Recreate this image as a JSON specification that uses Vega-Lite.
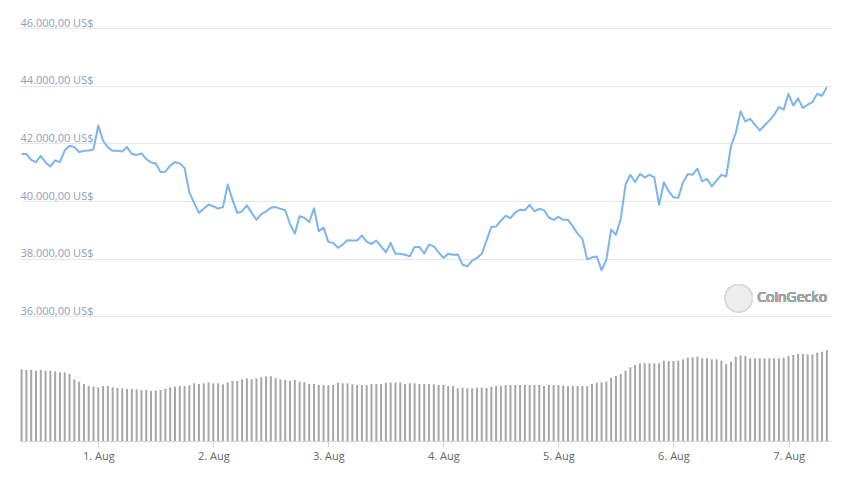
{
  "$schema": "https://vega.github.io/schema/vega-lite/v6.json",
  "width": 811,
  "height": 413,
  "autosize": {"type": "none"},
  "padding": {"left": 20, "top": 28, "right": 24, "bottom": 45},
  "background": "#ffffff",
  "config": {"view": {"stroke": null}, "font": "Open Sans"},
  "data": {"values": [
    {"t":"2021-07-31T08:00:00Z","price":41630,"volume":26.88},
    {"t":"2021-07-31T09:00:00Z","price":41630,"volume":26.63},
    {"t":"2021-07-31T10:00:00Z","price":41430,"volume":26.63},
    {"t":"2021-07-31T11:00:00Z","price":41350,"volume":26.38},
    {"t":"2021-07-31T12:00:00Z","price":41570,"volume":26.63},
    {"t":"2021-07-31T13:00:00Z","price":41340,"volume":26.38},
    {"t":"2021-07-31T14:00:00Z","price":41200,"volume":26.38},
    {"t":"2021-07-31T15:00:00Z","price":41410,"volume":26.13},
    {"t":"2021-07-31T16:00:00Z","price":41350,"volume":25.75},
    {"t":"2021-07-31T17:00:00Z","price":41760,"volume":25.75},
    {"t":"2021-07-31T18:00:00Z","price":41920,"volume":25.13},
    {"t":"2021-07-31T19:00:00Z","price":41870,"volume":23.13},
    {"t":"2021-07-31T20:00:00Z","price":41700,"volume":22.25},
    {"t":"2021-07-31T21:00:00Z","price":41740,"volume":21.38},
    {"t":"2021-07-31T22:00:00Z","price":41750,"volume":20.63},
    {"t":"2021-07-31T23:00:00Z","price":41790,"volume":20.38},
    {"t":"2021-08-01T00:00:00Z","price":42620,"volume":20.13},
    {"t":"2021-08-01T01:00:00Z","price":42090,"volume":20.63},
    {"t":"2021-08-01T02:00:00Z","price":41860,"volume":20.63},
    {"t":"2021-08-01T03:00:00Z","price":41740,"volume":20.13},
    {"t":"2021-08-01T04:00:00Z","price":41740,"volume":19.88},
    {"t":"2021-08-01T05:00:00Z","price":41720,"volume":19.75},
    {"t":"2021-08-01T06:00:00Z","price":41870,"volume":19.5},
    {"t":"2021-08-01T07:00:00Z","price":41630,"volume":19.5},
    {"t":"2021-08-01T08:00:00Z","price":41600,"volume":19.38},
    {"t":"2021-08-01T09:00:00Z","price":41650,"volume":19.13},
    {"t":"2021-08-01T10:00:00Z","price":41460,"volume":19.13},
    {"t":"2021-08-01T11:00:00Z","price":41340,"volume":18.75},
    {"t":"2021-08-01T12:00:00Z","price":41300,"volume":18.88},
    {"t":"2021-08-01T13:00:00Z","price":41010,"volume":19.13},
    {"t":"2021-08-01T14:00:00Z","price":41020,"volume":19.63},
    {"t":"2021-08-01T15:00:00Z","price":41230,"volume":20.13},
    {"t":"2021-08-01T16:00:00Z","price":41350,"volume":20.38},
    {"t":"2021-08-01T17:00:00Z","price":41300,"volume":20.63},
    {"t":"2021-08-01T18:00:00Z","price":41150,"volume":20.63},
    {"t":"2021-08-01T19:00:00Z","price":40300,"volume":20.88},
    {"t":"2021-08-01T20:00:00Z","price":39930,"volume":21.63},
    {"t":"2021-08-01T21:00:00Z","price":39590,"volume":21.38},
    {"t":"2021-08-01T22:00:00Z","price":39730,"volume":21.63},
    {"t":"2021-08-01T23:00:00Z","price":39880,"volume":22.0},
    {"t":"2021-08-02T00:00:00Z","price":39820,"volume":21.63},
    {"t":"2021-08-02T01:00:00Z","price":39740,"volume":21.63},
    {"t":"2021-08-02T02:00:00Z","price":39790,"volume":21.25},
    {"t":"2021-08-02T03:00:00Z","price":40570,"volume":22.0},
    {"t":"2021-08-02T04:00:00Z","price":40050,"volume":22.5},
    {"t":"2021-08-02T05:00:00Z","price":39590,"volume":22.5},
    {"t":"2021-08-02T06:00:00Z","price":39640,"volume":23.13},
    {"t":"2021-08-02T07:00:00Z","price":39850,"volume":23.5},
    {"t":"2021-08-02T08:00:00Z","price":39590,"volume":23.13},
    {"t":"2021-08-02T09:00:00Z","price":39350,"volume":23.5},
    {"t":"2021-08-02T10:00:00Z","price":39550,"volume":23.88},
    {"t":"2021-08-02T11:00:00Z","price":39640,"volume":24.25},
    {"t":"2021-08-02T12:00:00Z","price":39770,"volume":24.25},
    {"t":"2021-08-02T13:00:00Z","price":39790,"volume":23.5},
    {"t":"2021-08-02T14:00:00Z","price":39730,"volume":23.13},
    {"t":"2021-08-02T15:00:00Z","price":39680,"volume":22.88},
    {"t":"2021-08-02T16:00:00Z","price":39210,"volume":22.63},
    {"t":"2021-08-02T17:00:00Z","price":38870,"volume":22.88},
    {"t":"2021-08-02T18:00:00Z","price":39470,"volume":22.25},
    {"t":"2021-08-02T19:00:00Z","price":39420,"volume":22.0},
    {"t":"2021-08-02T20:00:00Z","price":39270,"volume":21.38},
    {"t":"2021-08-02T21:00:00Z","price":39750,"volume":21.38},
    {"t":"2021-08-02T22:00:00Z","price":38950,"volume":21.0},
    {"t":"2021-08-02T23:00:00Z","price":39080,"volume":21.0},
    {"t":"2021-08-03T00:00:00Z","price":38580,"volume":21.0},
    {"t":"2021-08-03T01:00:00Z","price":38550,"volume":21.0},
    {"t":"2021-08-03T02:00:00Z","price":38380,"volume":21.88},
    {"t":"2021-08-03T03:00:00Z","price":38490,"volume":21.63},
    {"t":"2021-08-03T04:00:00Z","price":38640,"volume":21.63},
    {"t":"2021-08-03T05:00:00Z","price":38630,"volume":21.25},
    {"t":"2021-08-03T06:00:00Z","price":38630,"volume":21.0},
    {"t":"2021-08-03T07:00:00Z","price":38810,"volume":21.0},
    {"t":"2021-08-03T08:00:00Z","price":38590,"volume":21.0},
    {"t":"2021-08-03T09:00:00Z","price":38510,"volume":21.38},
    {"t":"2021-08-03T10:00:00Z","price":38630,"volume":21.38},
    {"t":"2021-08-03T11:00:00Z","price":38430,"volume":21.38},
    {"t":"2021-08-03T12:00:00Z","price":38220,"volume":21.88},
    {"t":"2021-08-03T13:00:00Z","price":38550,"volume":21.88},
    {"t":"2021-08-03T14:00:00Z","price":38170,"volume":21.88},
    {"t":"2021-08-03T15:00:00Z","price":38170,"volume":22.0},
    {"t":"2021-08-03T16:00:00Z","price":38140,"volume":21.38},
    {"t":"2021-08-03T17:00:00Z","price":38080,"volume":21.63},
    {"t":"2021-08-03T18:00:00Z","price":38410,"volume":21.63},
    {"t":"2021-08-03T19:00:00Z","price":38410,"volume":21.38},
    {"t":"2021-08-03T20:00:00Z","price":38180,"volume":21.38},
    {"t":"2021-08-03T21:00:00Z","price":38490,"volume":21.38},
    {"t":"2021-08-03T22:00:00Z","price":38430,"volume":21.25},
    {"t":"2021-08-03T23:00:00Z","price":38220,"volume":21.0},
    {"t":"2021-08-04T00:00:00Z","price":38030,"volume":21.0},
    {"t":"2021-08-04T01:00:00Z","price":38170,"volume":20.63},
    {"t":"2021-08-04T02:00:00Z","price":38140,"volume":20.63},
    {"t":"2021-08-04T03:00:00Z","price":38150,"volume":19.75},
    {"t":"2021-08-04T04:00:00Z","price":37790,"volume":20.0},
    {"t":"2021-08-04T05:00:00Z","price":37740,"volume":19.75},
    {"t":"2021-08-04T06:00:00Z","price":37930,"volume":19.75},
    {"t":"2021-08-04T07:00:00Z","price":38030,"volume":20.0},
    {"t":"2021-08-04T08:00:00Z","price":38170,"volume":20.0},
    {"t":"2021-08-04T09:00:00Z","price":38630,"volume":19.88},
    {"t":"2021-08-04T10:00:00Z","price":39100,"volume":20.38},
    {"t":"2021-08-04T11:00:00Z","price":39120,"volume":20.63},
    {"t":"2021-08-04T12:00:00Z","price":39320,"volume":20.63},
    {"t":"2021-08-04T13:00:00Z","price":39490,"volume":21.0},
    {"t":"2021-08-04T14:00:00Z","price":39410,"volume":21.0},
    {"t":"2021-08-04T15:00:00Z","price":39610,"volume":21.0},
    {"t":"2021-08-04T16:00:00Z","price":39700,"volume":21.0},
    {"t":"2021-08-04T17:00:00Z","price":39680,"volume":21.0},
    {"t":"2021-08-04T18:00:00Z","price":39870,"volume":21.0},
    {"t":"2021-08-04T19:00:00Z","price":39640,"volume":21.0},
    {"t":"2021-08-04T20:00:00Z","price":39730,"volume":21.0},
    {"t":"2021-08-04T21:00:00Z","price":39680,"volume":20.63},
    {"t":"2021-08-04T22:00:00Z","price":39430,"volume":21.0},
    {"t":"2021-08-04T23:00:00Z","price":39350,"volume":21.0},
    {"t":"2021-08-05T00:00:00Z","price":39450,"volume":21.0},
    {"t":"2021-08-05T01:00:00Z","price":39350,"volume":20.75},
    {"t":"2021-08-05T02:00:00Z","price":39350,"volume":20.63},
    {"t":"2021-08-05T03:00:00Z","price":39120,"volume":20.63},
    {"t":"2021-08-05T04:00:00Z","price":38870,"volume":20.63},
    {"t":"2021-08-05T05:00:00Z","price":38690,"volume":20.63},
    {"t":"2021-08-05T06:00:00Z","price":37970,"volume":20.63},
    {"t":"2021-08-05T07:00:00Z","price":38050,"volume":21.38},
    {"t":"2021-08-05T08:00:00Z","price":38080,"volume":21.88},
    {"t":"2021-08-05T09:00:00Z","price":37600,"volume":22.0},
    {"t":"2021-08-05T10:00:00Z","price":37970,"volume":22.25},
    {"t":"2021-08-05T11:00:00Z","price":39010,"volume":23.75},
    {"t":"2021-08-05T12:00:00Z","price":38830,"volume":24.38},
    {"t":"2021-08-05T13:00:00Z","price":39380,"volume":25.13},
    {"t":"2021-08-05T14:00:00Z","price":40570,"volume":26.38},
    {"t":"2021-08-05T15:00:00Z","price":40910,"volume":27.63},
    {"t":"2021-08-05T16:00:00Z","price":40660,"volume":28.5},
    {"t":"2021-08-05T17:00:00Z","price":40940,"volume":29.13},
    {"t":"2021-08-05T18:00:00Z","price":40820,"volume":29.13},
    {"t":"2021-08-05T19:00:00Z","price":40910,"volume":29.13},
    {"t":"2021-08-05T20:00:00Z","price":40820,"volume":29.13},
    {"t":"2021-08-05T21:00:00Z","price":39870,"volume":29.13},
    {"t":"2021-08-05T22:00:00Z","price":40650,"volume":30.13},
    {"t":"2021-08-05T23:00:00Z","price":40340,"volume":30.0},
    {"t":"2021-08-06T00:00:00Z","price":40130,"volume":30.0},
    {"t":"2021-08-06T01:00:00Z","price":40110,"volume":30.13},
    {"t":"2021-08-06T02:00:00Z","price":40650,"volume":30.63},
    {"t":"2021-08-06T03:00:00Z","price":40940,"volume":31.25},
    {"t":"2021-08-06T04:00:00Z","price":40910,"volume":31.38},
    {"t":"2021-08-06T05:00:00Z","price":41120,"volume":31.63},
    {"t":"2021-08-06T06:00:00Z","price":40680,"volume":31.0},
    {"t":"2021-08-06T07:00:00Z","price":40770,"volume":31.0},
    {"t":"2021-08-06T08:00:00Z","price":40510,"volume":30.63},
    {"t":"2021-08-06T09:00:00Z","price":40710,"volume":30.63},
    {"t":"2021-08-06T10:00:00Z","price":40910,"volume":30.13},
    {"t":"2021-08-06T11:00:00Z","price":40850,"volume":28.88},
    {"t":"2021-08-06T12:00:00Z","price":41900,"volume":29.75},
    {"t":"2021-08-06T13:00:00Z","price":42360,"volume":31.63},
    {"t":"2021-08-06T14:00:00Z","price":43110,"volume":32.13},
    {"t":"2021-08-06T15:00:00Z","price":42760,"volume":31.88},
    {"t":"2021-08-06T16:00:00Z","price":42850,"volume":31.0},
    {"t":"2021-08-06T17:00:00Z","price":42650,"volume":31.0},
    {"t":"2021-08-06T18:00:00Z","price":42450,"volume":31.0},
    {"t":"2021-08-06T19:00:00Z","price":42620,"volume":31.0},
    {"t":"2021-08-06T20:00:00Z","price":42790,"volume":31.0},
    {"t":"2021-08-06T21:00:00Z","price":42990,"volume":31.0},
    {"t":"2021-08-06T22:00:00Z","price":43260,"volume":31.0},
    {"t":"2021-08-06T23:00:00Z","price":43170,"volume":31.25},
    {"t":"2021-08-07T00:00:00Z","price":43720,"volume":31.88},
    {"t":"2021-08-07T01:00:00Z","price":43310,"volume":32.25},
    {"t":"2021-08-07T02:00:00Z","price":43560,"volume":32.63},
    {"t":"2021-08-07T03:00:00Z","price":43230,"volume":32.63},
    {"t":"2021-08-07T04:00:00Z","price":43340,"volume":32.5},
    {"t":"2021-08-07T05:00:00Z","price":43430,"volume":32.5},
    {"t":"2021-08-07T06:00:00Z","price":43720,"volume":33.13},
    {"t":"2021-08-07T07:00:00Z","price":43650,"volume":33.5},
    {"t":"2021-08-07T08:00:00Z","price":43950,"volume":34.13}
  ]},
  "encoding": {
    "x": {
      "field": "t",
      "type": "temporal",
      "scale": {
        "type": "utc",
        "nice": false,
        "padding": 0,
        "domain": [
          {"year": 2021, "month": 7, "date": 31, "hours": 7, "minutes": 40, "utc": true},
          {"year": 2021, "month": 8, "date": 7, "hours": 8, "minutes": 52, "utc": true}
        ]
      },
      "axis": {
        "title": null,
        "values": [
          {"year": 2021, "month": 8, "date": 1, "utc": true},
          {"year": 2021, "month": 8, "date": 2, "utc": true},
          {"year": 2021, "month": 8, "date": 3, "utc": true},
          {"year": 2021, "month": 8, "date": 4, "utc": true},
          {"year": 2021, "month": 8, "date": 5, "utc": true},
          {"year": 2021, "month": 8, "date": 6, "utc": true},
          {"year": 2021, "month": 8, "date": 7, "utc": true}
        ],
        "format": "%-d. %b",
        "grid": false,
        "domain": true,
        "domainColor": "#ccd6eb",
        "ticks": true,
        "tickColor": "#ccd6eb",
        "tickSize": 6,
        "labelColor": "#666666",
        "labelFontSize": 11,
        "labelPadding": 3,
        "labelFlush": false
      }
    }
  },
  "layer": [
    {
      "mark": {"type": "bar", "color": "#a6a6a6", "width": 2},
      "encoding": {
        "y": {"field": "volume", "type": "quantitative", "scale": {"domain": [0, 154.875], "nice": false}, "axis": null}
      }
    },
    {
      "mark": {"type": "line", "color": "#7cb5ec", "strokeWidth": 2, "strokeJoin": "round"},
      "encoding": {
        "y": {
          "field": "price",
          "type": "quantitative",
          "scale": {"domain": [31680, 46000], "nice": false, "zero": false},
          "axis": {
            "orient": "left",
            "title": null,
            "values": [36000, 38000, 40000, 42000, 44000, 46000],
            "labelExpr": "replace(replace(replace(format(datum.value, ',.2f'), ',', '#'), '.', ','), '#', '.') + ' US$'",
            "grid": true,
            "gridColor": "#e6e6e6",
            "gridWidth": 1,
            "ticks": false,
            "domain": false,
            "labelAlign": "left",
            "labelBaseline": "alphabetic",
            "labelPadding": 0,
            "labelOffset": -2,
            "labelColor": "#8c9ebb",
            "labelFontSize": 11
          }
        }
      }
    },
    {
      "mark": {"type": "point", "shape": "circle", "filled": true, "fill": "#ededed", "stroke": "#dadada", "strokeWidth": 1.5, "opacity": 1, "size": 729},
      "encoding": {
        "x": {"datum": {"year": 2021, "month": 8, "date": 6, "hours": 13, "minutes": 36, "utc": true}, "type": "temporal"},
        "y": {"datum": 36632, "type": "quantitative", "scale": {"domain": [31680, 46000], "nice": false, "zero": false}, "axis": null}
      }
    },
    {
      "mark": {"type": "text", "text": "CoinGecko", "align": "left", "baseline": "middle", "fontSize": 14, "color": "#a3a3a3"},
      "encoding": {
        "x": {"datum": {"year": 2021, "month": 8, "date": 6, "hours": 17, "minutes": 28, "utc": true}, "type": "temporal"},
        "y": {"datum": 36632, "type": "quantitative", "scale": {"domain": [31680, 46000], "nice": false, "zero": false}, "axis": null}
      }
    }
  ],
  "resolve": {"scale": {"y": "independent"}, "axis": {"y": "independent"}}
}
